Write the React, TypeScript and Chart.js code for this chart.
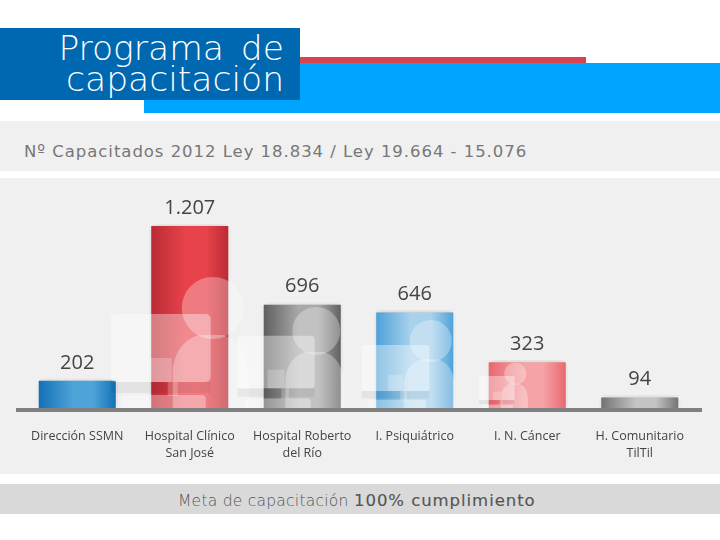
import React, { useEffect, useRef } from "react";
import { Chart, registerables } from "chart.js";

Chart.register(...registerables);

const categories = [
  ["Dirección SSMN"],
  ["Hospital Clínico", "San José"],
  ["Hospital Roberto", "del Río"],
  ["I. Psiquiátrico"],
  ["I. N. Cáncer"],
  ["H. Comunitario", "TilTil"],
];
const capacitados = [202, 1207, 696, 646, 323, 94];
const valueLabels = ["202", "1.207", "696", "646", "323", "94"];
const edgeColors = ["#0f6fb5", "#b82a34", "#5c5c5c", "#4a9fd8", "#e8656c", "#6f6f6f"];
const midColors = ["#4ea3d8", "#e8434b", "#a8a8a8", "#a8d2ec", "#f5a3a6", "#c4c4c4"];
const iconBars = [1, 2, 3, 4];
const iconSizes = [31, 24, 21, 11];
const iconOffsets = [23, 14, 16, -12];

const gradientPlugin = {
  id: "decor",
  beforeDatasetsDraw(chart: any) {
    const c = chart.ctx;
    c.save();
    c.shadowColor = "rgba(0,0,0,0.22)";
    c.shadowBlur = 6;
    c.shadowOffsetY = -1;
  },
  afterDatasetsDraw(chart: any) {
    const c = chart.ctx;
    c.restore();
    const xs = chart.scales.x;
    const ys = chart.scales.y;
    const base = ys.getPixelForValue(0);
    c.save();
    c.beginPath();
    c.rect(0, 0, chart.width, base);
    c.clip();
    iconBars.forEach((bar, k) => {
      const s = iconSizes[k] / 31;
      const hx = xs.getPixelForValue(bar) + iconOffsets[k];
      const hy = base - 102 * s;
      c.fillStyle = "rgba(255,255,255,0.3)";
      // head
      c.beginPath();
      c.arc(hx, hy, 31 * s, 0, Math.PI * 2);
      c.fill();
      // body
      c.beginPath();
      c.moveTo(hx - 40 * s, base);
      c.lineTo(hx - 40 * s, hy + 60 * s);
      c.quadraticCurveTo(hx - 36 * s, hy + 34 * s, hx - 14 * s, hy + 27 * s);
      c.lineTo(hx + 10 * s, hy + 27 * s);
      c.quadraticCurveTo(hx + 34 * s, hy + 34 * s, hx + 36 * s, hy + 70 * s);
      c.lineTo(hx + 36 * s, base);
      c.closePath();
      c.fill();
      // monitor
      c.fillStyle = "rgba(255,255,255,0.38)";
      c.beginPath();
      c.roundRect(hx - 102 * s, hy + 6 * s, 100 * s, 68 * s, 5 * s);
      c.fill();
      // desk shadow
      c.fillStyle = "rgba(0,0,0,0.05)";
      c.fillRect(hx - 102 * s, hy + 74 * s, 100 * s, 11 * s);
      // chair and stand
      c.fillStyle = "rgba(255,255,255,0.22)";
      c.fillRect(hx - 63 * s, hy + 50 * s, 22 * s, 24 * s);
      c.fillRect(hx - 45 * s, hy + 74 * s, 10 * s, 14 * s);
      c.fillStyle = "rgba(255,255,255,0.34)";
      c.beginPath();
      c.roundRect(hx - 92 * s, hy + 87 * s, 85 * s, 15 * s, 4 * s);
      c.fill();
    });
    c.restore();
    // baseline
    c.save();
    c.strokeStyle = "#808080";
    c.lineWidth = 4;
    c.beginPath();
    c.moveTo(16, base);
    c.lineTo(702, base);
    c.stroke();
    // values
    c.fillStyle = "#444444";
    c.font = '20px "Open Sans"';
    c.textAlign = "center";
    c.textBaseline = "middle";
    capacitados.forEach((v, i) => {
      c.fillText(valueLabels[i], xs.getPixelForValue(i), ys.getPixelForValue(v) - 16);
    });
    c.restore();
  },
};

const band = (top: number, height: number, left: number, width: number, background: string) => ({
  position: "absolute" as const,
  top,
  height,
  left,
  width,
  background,
});

export default function App() {
  const ref = useRef<HTMLCanvasElement>(null);
  useEffect(() => {
    const chart = new Chart(ref.current!, {
      type: "bar",
      data: {
        labels: categories,
        datasets: [
          {
            data: capacitados,
            barPercentage: 0.72,
            categoryPercentage: 1,
            borderColor: "#ffffff",
            borderWidth: { top: 2, left: 2, right: 2, bottom: 0 },
            backgroundColor: (ctx: any) => {
              const ch = ctx.chart;
              if (!ch.chartArea) return midColors[ctx.dataIndex];
              const x = ch.scales.x.getPixelForValue(ctx.dataIndex);
              const g = ch.ctx.createLinearGradient(x - 40, 0, x + 40, 0);
              g.addColorStop(0, edgeColors[ctx.dataIndex]);
              g.addColorStop(0.45, midColors[ctx.dataIndex]);
              g.addColorStop(0.7, midColors[ctx.dataIndex]);
              g.addColorStop(1, edgeColors[ctx.dataIndex]);
              return g;
            },
          },
        ],
      },
      options: {
        animation: false,
        responsive: false,
        layout: { padding: { left: 21, right: 24, top: 0, bottom: 0 } },
        plugins: { legend: { display: false }, tooltip: { enabled: false } },
        scales: {
          x: {
            grid: { display: false },
            border: { display: false },
            afterFit: (s: any) => {
              s.height = 64;
            },
            ticks: {
              color: "#444444",
              padding: 10,
              maxRotation: 0,
              autoSkip: false,
              font: { family: '"Open Sans"', size: 12.5, lineHeight: 1.36 },
            },
          },
          y: { display: false, min: 0, max: 1505 },
        },
      },
      plugins: [gradientPlugin],
    } as any);
    return () => chart.destroy();
  }, []);

  return (
    <div style={{ position: "absolute", left: 0, top: 0, width: 720, height: 540, background: "#fff", overflow: "hidden", fontFamily: '"DejaVu Sans"' }}>
      <div style={band(57, 6, 300, 286, "#d9434e")} />
      <div style={band(63, 50, 144, 576, "#00a5ff")} />
      <div style={band(28, 72, 0, 300, "#0068b0")} />
      <div style={{ position: "absolute", top: 33, left: 0, width: 284, textAlign: "right", color: "#fff", fontSize: 34.5, wordSpacing: 6, lineHeight: "31px", fontWeight: 300 }}>
        Programa de
        <br />
        capacitación
      </div>
      <div style={band(121, 50, 0, 720, "#f0f0f0")} />
      <div style={{ position: "absolute", top: 142, left: 24, color: "#777", fontSize: 16.5, letterSpacing: 0.96, lineHeight: "20px", whiteSpace: "nowrap" }}>
        Nº Capacitados 2012 Ley 18.834 / Ley 19.664 - 15.076
      </div>
      <div style={band(178, 296, 0, 720, "#f0f0f0")} />
      <canvas ref={ref} width={720} height={296} style={{ position: "absolute", left: 0, top: 178, width: 720, height: 296 }} />
      <div style={band(484, 30, 0, 720, "#d9d9d9")} />
      <div style={{ position: "absolute", top: 491, left: 178, color: "#555", fontSize: 15.5, fontWeight: 300, letterSpacing: 0.25, lineHeight: "20px", whiteSpace: "nowrap" }}>
        Meta de capacitación
      </div>
      <div style={{ position: "absolute", top: 491, left: 354, color: "#555", fontSize: 16.5, letterSpacing: 0.95, WebkitTextStroke: "0.15px #555", lineHeight: "20px", whiteSpace: "nowrap" }}>
        100% cumplimiento
      </div>
    </div>
  );
}
